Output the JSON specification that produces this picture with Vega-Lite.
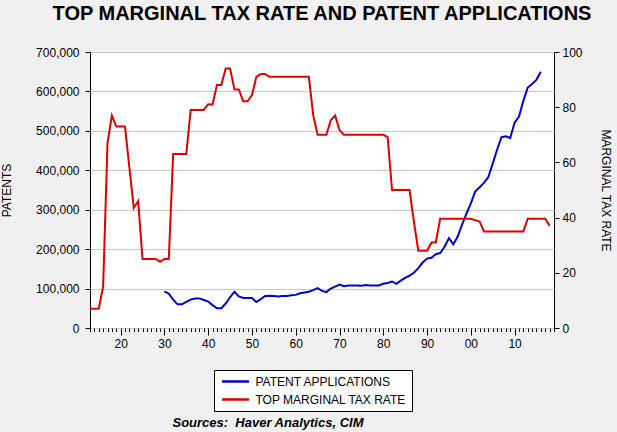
{
  "$schema": "https://vega.github.io/schema/vega-lite/v6.json",
  "autosize": "none",
  "width": 464,
  "height": 276,
  "padding": {"left": 90, "top": 52, "right": 63, "bottom": 104},
  "background": "#f0f0f0",
  "config": {
    "font": "Liberation Sans",
    "view": {"fill": "white", "stroke": "black", "strokeWidth": 1},
    "axis": {"labelFont": "Liberation Sans", "labelFontSize": 12, "labelColor": "black", "titleFont": "Liberation Sans", "titleFontSize": 12, "titleFontWeight": "normal", "titleColor": "black", "tickColor": "black", "domain": false}
  },
  "title": {
    "text": "TOP MARGINAL TAX RATE AND PATENT APPLICATIONS",
    "font": "Liberation Sans",
    "fontSize": 20,
    "fontWeight": "bold",
    "color": "black",
    "anchor": "middle",
    "frame": "group",
    "offset": 22
  },
  "datasets": {
    "patents": [
      {"year": 1930, "patents": 93000}, {"year": 1931, "patents": 87000}, {"year": 1932, "patents": 72000},
      {"year": 1933, "patents": 60000}, {"year": 1934, "patents": 60000}, {"year": 1935, "patents": 66000},
      {"year": 1936, "patents": 72000}, {"year": 1937, "patents": 75000}, {"year": 1938, "patents": 75000},
      {"year": 1939, "patents": 71000}, {"year": 1940, "patents": 67000}, {"year": 1941, "patents": 58000},
      {"year": 1942, "patents": 50000}, {"year": 1943, "patents": 50000}, {"year": 1944, "patents": 62000},
      {"year": 1945, "patents": 78000}, {"year": 1946, "patents": 92000}, {"year": 1947, "patents": 80000},
      {"year": 1948, "patents": 76000}, {"year": 1949, "patents": 76000}, {"year": 1950, "patents": 76000},
      {"year": 1951, "patents": 66000}, {"year": 1952, "patents": 73000}, {"year": 1953, "patents": 81000},
      {"year": 1954, "patents": 82000}, {"year": 1955, "patents": 81000}, {"year": 1956, "patents": 80000},
      {"year": 1957, "patents": 81000}, {"year": 1958, "patents": 81000}, {"year": 1959, "patents": 83000},
      {"year": 1960, "patents": 84000}, {"year": 1961, "patents": 88000}, {"year": 1962, "patents": 90000},
      {"year": 1963, "patents": 92000}, {"year": 1964, "patents": 96000}, {"year": 1965, "patents": 101000},
      {"year": 1966, "patents": 94000}, {"year": 1967, "patents": 91000}, {"year": 1968, "patents": 100000},
      {"year": 1969, "patents": 105000}, {"year": 1970, "patents": 110000}, {"year": 1971, "patents": 106000},
      {"year": 1972, "patents": 108000}, {"year": 1973, "patents": 108000}, {"year": 1974, "patents": 108000},
      {"year": 1975, "patents": 107000}, {"year": 1976, "patents": 109000}, {"year": 1977, "patents": 108000},
      {"year": 1978, "patents": 108000}, {"year": 1979, "patents": 108000}, {"year": 1980, "patents": 112000},
      {"year": 1981, "patents": 114000}, {"year": 1982, "patents": 118000}, {"year": 1983, "patents": 112000},
      {"year": 1984, "patents": 120000}, {"year": 1985, "patents": 127000}, {"year": 1986, "patents": 133000},
      {"year": 1987, "patents": 140000}, {"year": 1988, "patents": 152000}, {"year": 1989, "patents": 166000},
      {"year": 1990, "patents": 176000}, {"year": 1991, "patents": 178000}, {"year": 1992, "patents": 187000},
      {"year": 1993, "patents": 190000}, {"year": 1994, "patents": 206000}, {"year": 1995, "patents": 228000},
      {"year": 1996, "patents": 212000}, {"year": 1997, "patents": 232000}, {"year": 1998, "patents": 262000},
      {"year": 1999, "patents": 290000}, {"year": 2000, "patents": 316000}, {"year": 2001, "patents": 346000},
      {"year": 2002, "patents": 357000}, {"year": 2003, "patents": 368000}, {"year": 2004, "patents": 383000},
      {"year": 2005, "patents": 417000}, {"year": 2006, "patents": 452000}, {"year": 2007, "patents": 484000},
      {"year": 2008, "patents": 486000}, {"year": 2009, "patents": 482000}, {"year": 2010, "patents": 521000},
      {"year": 2011, "patents": 536000}, {"year": 2012, "patents": 576000}, {"year": 2013, "patents": 610000},
      {"year": 2014, "patents": 619000}, {"year": 2015, "patents": 630000}, {"year": 2016, "patents": 650000}
    ],
    "taxrate": [
      {"year": 1913, "rate": 7}, {"year": 1914, "rate": 7}, {"year": 1915, "rate": 7}, {"year": 1916, "rate": 15},
      {"year": 1917, "rate": 67}, {"year": 1918, "rate": 77}, {"year": 1919, "rate": 73}, {"year": 1920, "rate": 73},
      {"year": 1921, "rate": 73}, {"year": 1922, "rate": 58}, {"year": 1923, "rate": 43.5}, {"year": 1924, "rate": 46},
      {"year": 1925, "rate": 25}, {"year": 1926, "rate": 25}, {"year": 1927, "rate": 25}, {"year": 1928, "rate": 25},
      {"year": 1929, "rate": 24}, {"year": 1930, "rate": 25}, {"year": 1931, "rate": 25}, {"year": 1932, "rate": 63},
      {"year": 1933, "rate": 63}, {"year": 1934, "rate": 63}, {"year": 1935, "rate": 63}, {"year": 1936, "rate": 79},
      {"year": 1937, "rate": 79}, {"year": 1938, "rate": 79}, {"year": 1939, "rate": 79}, {"year": 1940, "rate": 81.1},
      {"year": 1941, "rate": 81}, {"year": 1942, "rate": 88}, {"year": 1943, "rate": 88}, {"year": 1944, "rate": 94},
      {"year": 1945, "rate": 94}, {"year": 1946, "rate": 86.45}, {"year": 1947, "rate": 86.45}, {"year": 1948, "rate": 82.13},
      {"year": 1949, "rate": 82.13}, {"year": 1950, "rate": 84.36}, {"year": 1951, "rate": 91}, {"year": 1952, "rate": 92},
      {"year": 1953, "rate": 92}, {"year": 1954, "rate": 91}, {"year": 1955, "rate": 91}, {"year": 1956, "rate": 91},
      {"year": 1957, "rate": 91}, {"year": 1958, "rate": 91}, {"year": 1959, "rate": 91}, {"year": 1960, "rate": 91},
      {"year": 1961, "rate": 91}, {"year": 1962, "rate": 91}, {"year": 1963, "rate": 91}, {"year": 1964, "rate": 77},
      {"year": 1965, "rate": 70}, {"year": 1966, "rate": 70}, {"year": 1967, "rate": 70}, {"year": 1968, "rate": 75.25},
      {"year": 1969, "rate": 77}, {"year": 1970, "rate": 71.75}, {"year": 1971, "rate": 70}, {"year": 1972, "rate": 70},
      {"year": 1973, "rate": 70}, {"year": 1974, "rate": 70}, {"year": 1975, "rate": 70}, {"year": 1976, "rate": 70},
      {"year": 1977, "rate": 70}, {"year": 1978, "rate": 70}, {"year": 1979, "rate": 70}, {"year": 1980, "rate": 70},
      {"year": 1981, "rate": 69.13}, {"year": 1982, "rate": 50}, {"year": 1983, "rate": 50}, {"year": 1984, "rate": 50},
      {"year": 1985, "rate": 50}, {"year": 1986, "rate": 50}, {"year": 1987, "rate": 38.5}, {"year": 1988, "rate": 28},
      {"year": 1989, "rate": 28}, {"year": 1990, "rate": 28}, {"year": 1991, "rate": 31}, {"year": 1992, "rate": 31},
      {"year": 1993, "rate": 39.6}, {"year": 1994, "rate": 39.6}, {"year": 1995, "rate": 39.6}, {"year": 1996, "rate": 39.6},
      {"year": 1997, "rate": 39.6}, {"year": 1998, "rate": 39.6}, {"year": 1999, "rate": 39.6}, {"year": 2000, "rate": 39.6},
      {"year": 2001, "rate": 39.1}, {"year": 2002, "rate": 38.6}, {"year": 2003, "rate": 35}, {"year": 2004, "rate": 35},
      {"year": 2005, "rate": 35}, {"year": 2006, "rate": 35}, {"year": 2007, "rate": 35}, {"year": 2008, "rate": 35},
      {"year": 2009, "rate": 35}, {"year": 2010, "rate": 35}, {"year": 2011, "rate": 35}, {"year": 2012, "rate": 35},
      {"year": 2013, "rate": 39.6}, {"year": 2014, "rate": 39.6}, {"year": 2015, "rate": 39.6}, {"year": 2016, "rate": 39.6},
      {"year": 2017, "rate": 39.6}, {"year": 2018, "rate": 37}
    ]
  },
  "encoding": {
    "x": {
      "field": "year",
      "type": "quantitative",
      "scale": {"domain": [1913, 2019], "nice": false, "zero": false},
      "axis": {
        "tickCount": 106,
        "grid": false,
        "labelOverlap": false,
        "labelPadding": 3,
        "labelExpr": "datum.value % 10 === 0 ? (datum.value % 100 < 10 ? '0' + (datum.value % 100) : '' + (datum.value % 100)) : ''",
        "tickSize": {"condition": {"test": "datum.value % 10 === 0", "value": 7}, "value": 3.5},
        "title": "Sources:\u00a0 Haver Analytics, CIM",
        "titleFontWeight": "bold",
        "titleFontStyle": "italic",
        "titleFontSize": 13,
        "titleAlign": "left",
        "titleAnchor": "start",
        "titleBaseline": "alphabetic",
        "titleX": 82,
        "titleY": 98
      }
    }
  },
  "layer": [
    {
      "data": {"name": "patents"},
      "mark": {"type": "line", "strokeWidth": 2},
      "encoding": {
        "y": {
          "field": "patents",
          "type": "quantitative",
          "scale": {"domain": [0, 700000], "nice": false},
          "axis": {"orient": "left", "values": [0, 100000, 200000, 300000, 400000, 500000, 600000, 700000], "format": ",d", "grid": true, "gridColor": "#c8c8c8", "gridWidth": 1, "tickSize": 5, "labelPadding": 6, "title": "PATENTS", "titlePadding": 22}
        },
        "color": {
          "datum": "PATENT APPLICATIONS",
          "type": "nominal",
          "scale": {"domain": ["PATENT APPLICATIONS", "TOP MARGINAL TAX RATE"], "range": ["#0000cc", "#dd0000"]},
          "legend": {
            "title": null,
            "orient": "none",
            "legendX": 124,
            "legendY": 318,
            "direction": "vertical",
            "fillColor": "white",
            "strokeColor": "black",
            "padding": 5,
            "rowPadding": 5,
            "symbolType": "M-0.7,0H4.7",
            "symbolStrokeWidth": 2.5,
            "symbolSize": 100,
            "labelFont": "Liberation Sans",
            "labelFontSize": 12,
            "labelColor": "black",
            "labelOffset": 23.5
          }
        }
      }
    },
    {
      "data": {"name": "taxrate"},
      "mark": {"type": "line", "strokeWidth": 2},
      "encoding": {
        "y": {
          "field": "rate",
          "type": "quantitative",
          "scale": {"domain": [0, 100], "nice": false},
          "axis": {"orient": "right", "values": [0, 20, 40, 60, 80, 100], "grid": false, "tickSize": 5, "labelPadding": 3, "title": "MARGINAL TAX RATE", "titlePadding": 16}
        },
        "color": {"datum": "TOP MARGINAL TAX RATE", "type": "nominal"}
      }
    }
  ],
  "resolve": {"scale": {"y": "independent"}}
}
